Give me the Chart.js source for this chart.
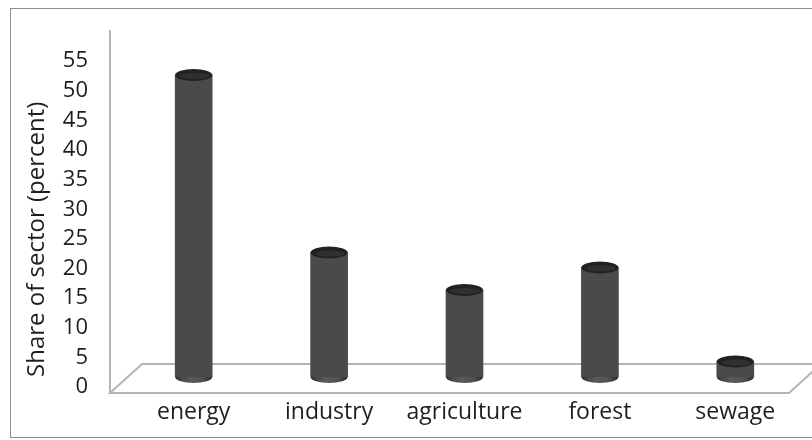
<!DOCTYPE html>
<html>
<head>
<meta charset="utf-8">
<script src="https://cdn.jsdelivr.net/npm/chart.js@4"></script>
<style>
  html, body { margin: 0; padding: 0; background: #fff; }
  #wrap { width: 812px; height: 440px; }
</style>
</head>
<body>
<div id="wrap"><canvas id="chart" width="812" height="440"></canvas></div>
<script>
// sectors and their share (percent)
const sectors = ['energy', 'industry', 'agriculture', 'forest', 'sewage'];
const shares = [51, 21, 14.7, 18.5, 2.6];
const yTicks = [0, 5, 10, 15, 20, 25, 30, 35, 40, 45, 50, 55];

const FONT = '"Open Sans", "Noto Sans", sans-serif';
const TEXT = '#1e1e1e';
const LINE = '#b4b4b4';

// gradient for the cylinder body
function cylGradient(ctx, x0, x1) {
  const g = ctx.createLinearGradient(x0, 0, x1, 0);
  g.addColorStop(0, '#262626');
  g.addColorStop(0.12, '#444');
  g.addColorStop(0.4, '#5a5a5a');
  g.addColorStop(0.75, '#505050');
  g.addColorStop(1, '#2a2a2a');
  return g;
}

// frame, 3d floor and the vertical axis line
const backdrop = {
  id: 'backdrop',
  beforeDraw(chart) {
    const { ctx } = chart;
    ctx.save();
    ctx.strokeStyle = '#8c8c8c';
    ctx.lineWidth = 1;
    ctx.strokeRect(10.5, 8.5, 830, 429);
    ctx.restore();
  },
  beforeDatasetsDraw(chart) {
    const { ctx, chartArea } = chart;
    const base = chart.scales.y.getPixelForValue(0);
    const fx0 = chartArea.left - 16, fx1 = chartArea.right - 14, fy = base + 16;
    const dx = 32, dy = -29;
    ctx.save();
    ctx.strokeStyle = LINE;
    ctx.lineWidth = 2;
    ctx.beginPath();
    ctx.moveTo(fx0, fy);
    ctx.lineTo(fx1, fy);
    ctx.lineTo(fx1 + dx, fy + dy);
    ctx.lineTo(fx0 + dx, fy + dy);
    ctx.closePath();
    ctx.stroke();
    // y axis line
    ctx.beginPath();
    ctx.moveTo(fx0, 30);
    ctx.lineTo(fx0, fy);
    ctx.stroke();
    ctx.restore();
  }
};

// round caps for the columns
const cylinders = {
  id: 'cylinders',
  afterDatasetsDraw(chart) {
    const { ctx } = chart;
    const meta = chart.getDatasetMeta(0);
    const ry = 6;
    ctx.save();
    meta.data.forEach((bar) => {
      const { x, y, base, width } = bar.getProps(['x', 'y', 'base', 'width'], true);
      const rx = width / 2;
      // bottom rounding
      ctx.fillStyle = cylGradient(ctx, x - rx, x + rx);
      ctx.beginPath();
      ctx.ellipse(x, base, rx, ry, 0, 0, Math.PI);
      ctx.fill();
      // top face
      ctx.fillStyle = '#212121';
      ctx.beginPath();
      ctx.ellipse(x, y, rx, ry, 0, 0, Math.PI * 2);
      ctx.fill();
      ctx.fillStyle = '#303030';
      ctx.beginPath();
      ctx.ellipse(x + 1, y + 1, rx - 4, ry - 3, 0, 0, Math.PI * 2);
      ctx.fill();
    });
    ctx.restore();
  }
};

const ctx = document.getElementById('chart');

new Chart(ctx, {
  type: 'bar',
  data: {
    labels: sectors,
    datasets: [{
      label: 'Share of sector',
      data: shares,
      barThickness: 37,
      borderWidth: 0,
      backgroundColor: (c) => {
        const el = c.element;
        if (!el || !el.width) return '#4a4a4a';
        return cylGradient(c.chart.ctx, el.x - el.width / 2, el.x + el.width / 2);
      }
    }]
  },
  options: {
    responsive: false,
    animation: false,
    layout: { padding: { top: 43, right: 9, bottom: 0, left: 0 } },
    plugins: {
      legend: { display: false },
      tooltip: { enabled: false }
    },
    scales: {
      x: {
        grid: { display: false, drawTicks: false },
        border: { display: false },
        afterFit: (s) => { s.height = 63; },
        ticks: {
          padding: 22,
          color: TEXT,
          font: { family: FONT, size: 23 }
        }
      },
      y: {
        min: 0,
        max: 55,
        grid: { display: false, drawTicks: false },
        border: { display: false },
        afterFit: (s) => { s.width = 126; },
        afterBuildTicks: (s) => { s.ticks = yTicks.map(v => ({ value: v })); },
        ticks: {
          padding: 38,
          labelOffset: 10,
          color: TEXT,
          font: { family: FONT, size: 22 }
        },
        title: {
          display: true,
          align: 'start',
          text: 'Share of sector (percent)',
          color: TEXT,
          padding: { top: 23, bottom: 0 },
          font: { family: FONT, size: 24 }
        }
      }
    }
  },
  plugins: [backdrop, cylinders]
});
</script>
</body>
</html>
